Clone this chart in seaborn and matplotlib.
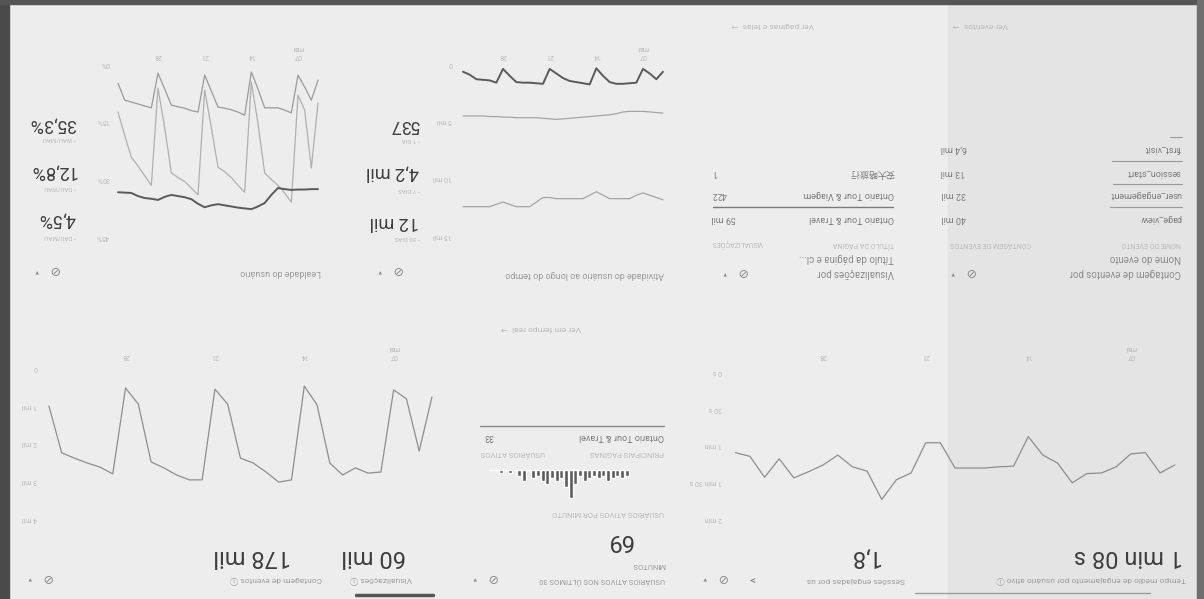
"""
GA4 engagement overview (pt-BR), reproduced as it appears in the screenshot:
rotated by 180 degrees, so every axis is inverted and all text is upside down.
"""
import matplotlib
matplotlib.use("Agg")
import matplotlib.pyplot as plt
from matplotlib.patches import Rectangle
import seaborn as sns

W, H = 1204, 599

# ---- data (chronological order, as on the upright dashboard) ----
day_ticks = [3, 10, 17, 24]
day_labels = ["07\nmai", "14", "21", "28"]

views_daily = [800, 2240, 850, 610, 2800, 2830, 2690, 2880, 2560, 1010, 510,
               3010, 3070, 2800, 2560, 2430, 990, 590, 3010, 3010, 2880, 2690,
               2530, 990, 560, 2850, 2670, 2560, 2430, 2290, 1040]
views_yticks = [0, 1000, 2000, 3000, 4000]
views_ylabels = ["0", "1 mil", "2 mil", "3 mil", "4 mil"]

engage_secs = [77, 83.5, 67, 68, 78.5, 83.5, 84, 91.5, 75.5, 69, 54, 78, 78.5,
               79.5, 79.5, 79.5, 59, 59, 83.5, 89, 105, 82, 78.5, 69, 77, 82.5,
               87.5, 72, 87, 70, 67]
engage_yticks = [0, 30, 60, 90, 120]
engage_ylabels = ["0 s", "30 s", "1 min", "1 min 30 s", "2 min"]

users_1d = [0.85, 1.5, 1.0, 0.6, 1.8, 1.85, 1.9, 1.9, 1.75, 1.2, 0.55, 1.95, 1.85,
            1.75, 1.65, 1.4, 1.0, 0.6, 1.9, 1.85, 1.8, 1.8, 1.75, 1.2, 0.6, 1.8,
            1.6, 1.55, 1.5, 1.1, 0.85]
users_7d = [4.45, 4.4, 4.35, 4.3, 4.3, 4.3, 4.35, 4.5, 4.6, 4.65, 4.7, 4.75, 4.8,
            4.85, 4.9, 4.95, 5.0, 4.95, 4.9, 4.85, 4.85, 4.85, 4.85, 4.8, 4.8,
            4.75, 4.75, 4.7, 4.7, 4.7, 4.7]
users_30d = [12.0, 11.8, 11.6, 11.4, 11.6, 11.9, 11.9, 11.9, 11.9, 11.6, 11.3,
             11.6, 11.9, 11.9, 11.9, 11.9, 11.9, 11.8, 11.8, 12.2, 12.6, 12.6,
             12.6, 12.4, 12.2, 12.4, 12.6, 12.6, 12.6, 12.6, 12.6]
users_yticks = [0, 5, 10, 15]
users_ylabels = ["0", "5 mil", "10 mil", "15 mil"]

dau_mau = [4.7, 9.9, 6.5, 3.4, 13.2, 12.5, 11.9, 11.9, 11.9, 7.0, 2.6, 13.8, 13.0,
           12.4, 12.0, 11.7, 7.5, 3.4, 13.0, 12.6, 12.0, 11.6, 11.2, 7.0, 2.9,
           11.9, 11.4, 10.9, 10.4, 9.9, 5.5]
dau_wau = [10.6, 27.5, 12.5, 8.6, 36.4, 34.0, 32.0, 30.5, 28.8, 16.0, 5.2, 33.8,
           32.0, 30.0, 28.5, 27.3, 17.0, 7.3, 34.5, 32.7, 31.0, 30.0, 28.8, 17.0,
           6.8, 32.0, 29.5, 27.0, 24.7, 19.0, 13.0]
wau_mau = [33.0, 33.0, 33.1, 33.1, 33.2, 33.0, 32.7, 34.5, 36.6, 37.5, 38.2, 38.0,
           37.8, 37.5, 37.2, 36.9, 37.2, 37.7, 36.8, 35.6, 35.1, 34.8, 34.5, 35.0,
           35.8, 35.5, 35.3, 34.8, 34.0, 33.9, 33.8]
loyal_yticks = [0, 15, 30, 45]
loyal_ylabels = ["0%", "15%", "30%", "45%"]

users_per_minute = [2, 3, 2, 3, 4, 2, 3, 2, 3, 4, 2, 5, 10, 6, 3, 4, 3, 5, 4, 2,
                    3, 0, 4, 2, 0, 1, 0, 1, 0, 0]

event_names = ["page_view", "user_engagement", "session_start", "first_visit"]
event_counts = ["40 mil", "32 mil", "13 mil", "6,4 mil"]
page_titles = ["Ontario Tour & Travel", "Ontario Tour & Viagem", "安大略旅行"]
page_views = ["59 mil", "422", "1"]

INK = "#3d3d3d"
SOFT = "#9a9a9a"
FAINT = "#b8b8b8"

sns.set_theme(style="white")
plt.rcParams["font.family"] = ["Roboto", "DejaVu Sans", "Noto Sans CJK SC"]

fig = plt.figure(figsize=(W / 100, H / 100), dpi=100, facecolor="#ededed")

# background layer in pixel coordinates of the screenshot
bg = fig.add_axes([0, 0, 1, 1])
bg.set_xlim(0, W)
bg.set_ylim(H, 0)
bg.axis("off")
bg.add_patch(Rectangle((948, 4), 249, H, color="#e4e4e4", zorder=0))
bg.add_patch(Rectangle((0, 0), 9, H, color="#4a4a4a", zorder=5))
bg.add_patch(Rectangle((0, 0), W, 4, color="#555555", zorder=5))
bg.add_patch(Rectangle((1197, 0), 7, H, color="#6e6e6e", zorder=5))


def utext(x, y, s, size=7, color=SOFT, ha="right", **kw):
    """Upside-down text; x is the image-space edge chosen by ha."""
    bg.text(x, y, s, rotation=180, fontsize=size, color=color, ha=ha,
            va="center", **kw)


def box(x0, y0, x1, y1):
    ax = fig.add_axes([x0 / W, 1 - y1 / H, (x1 - x0) / W, (y1 - y0) / H])
    ax.set_facecolor("none")
    return ax


def style_axes(ax, xlim, ylim, yticks, ylabels):
    ax.set_xlim(*xlim)
    ax.set_ylim(*ylim)
    ax.xaxis.tick_top()
    ax.set_xticks(day_ticks, day_labels)
    ax.set_yticks(yticks, ylabels)
    ax.tick_params(length=0, labelsize=5, labelcolor=FAINT, labelrotation=180, pad=2)
    ax.set_xlabel("")
    ax.set_ylabel("")
    for sp in ax.spines.values():
        sp.set_visible(False)


def icon(x, y):
    utext(x, y, "⊘", size=9, color="#8a8a8a", ha="center")
    utext(x - 17, y, "▾", size=5, color="#8a8a8a", ha="center")


# ---------------- lower half (first row of the dashboard) ----------------
utext(1183, 557, "1 min 08 s", size=17, color=INK)
utext(1186, 580, "Tempo médio de engajamento por usuário ativo ⓘ", size=6)
utext(880, 557, "1,8", size=17, color=INK)
utext(905, 580, "Sessões engajadas por us", size=6)
utext(752, 578, ">", size=8, color="#777777", ha="center")
icon(722, 577)
bg.plot([915, 1150], [593, 593], color="#9d9d9d", lw=1)

ax = box(725, 362, 1185, 525)
sns.lineplot(x=range(len(engage_secs)), y=engage_secs, ax=ax, color="#8e8e8e", linewidth=0.9)
style_axes(ax, (30.7, -0.7), (125.7, -6.5), engage_yticks, engage_ylabels)

# realtime card
utext(665, 580, "USUÁRIOS ATIVOS NOS ÚLTIMOS 30", size=5.5)
utext(665, 565, "MINUTOS", size=5.5)
utext(633, 541, "69", size=17, color=INK)
icon(492, 577)
utext(664, 513, "USUÁRIOS ATIVOS POR MINUTO", size=5.5, color=FAINT)
ax = box(488, 468, 630, 506)
sns.barplot(x=list(range(len(users_per_minute))), y=users_per_minute, ax=ax,
            color="#5c5c5c", width=0.88, saturation=1)
ax.set_xlim(29.7, -0.7)
ax.set_ylim(12.7, -0.7)
ax.axis("off")
utext(664, 453, "PRINCIPAIS PÁGINAS", size=5.5, color=FAINT)
utext(481, 453, "USUÁRIOS ATIVOS", size=5.5, color=FAINT, ha="left")
utext(664, 437, "Ontario Tour & Travel", size=6.5, color="#7a7a7a")
utext(484, 437, "33", size=6.5, color="#7a7a7a", ha="left")
bg.plot([480, 664], [426, 426], color="#8a8a8a", lw=1)
utext(581, 328, "Ver em tempo real  →", size=6, color=FAINT)

# views / events card
utext(406, 557, "60 mil", size=17, color=INK)
utext(412, 580, "Visualizações ⓘ", size=6)
utext(291, 557, "178 mil", size=17, color=INK)
utext(322, 580, "Contagem de eventos ⓘ", size=6)
icon(47, 577)
bg.plot([356, 433], [595, 595], color="#555555", lw=2.5)

ax = box(40, 362, 440, 525)
sns.lineplot(x=range(len(views_daily)), y=views_daily, ax=ax, color="#8e8e8e", linewidth=0.9)
style_axes(ax, (30.7, -0.63), (4213, -133), views_yticks, views_ylabels)

# ---------------- upper half (second row of the dashboard) ----------------
# user activity over time
utext(664, 275, "Atividade do usuário ao longo do tempo", size=6.5)
icon(397, 270)
for y_num, y_leg, num, leg in [(222, 238, "12 mil", "• 30 DIAS"),
                              (173, 189, "4,2 mil", "• 7 DIAS"),
                              (125, 139, "537", "• 1 DIA")]:
    utext(419, y_num, num, size=13, color=INK)
    utext(420, y_leg, leg, size=4.5, color=FAINT)

ax = box(455, 62, 668, 240)
sns.lineplot(x=range(len(users_30d)), y=users_30d, ax=ax, color="#a5a5a5", linewidth=0.9)
sns.lineplot(x=range(len(users_7d)), y=users_7d, ax=ax, color="#a5a5a5", linewidth=0.9)
sns.lineplot(x=range(len(users_1d)), y=users_1d, ax=ax, color="#5a5a5a", linewidth=1.4)
style_axes(ax, (31.2, -0.75), (15.5, 0), users_yticks, users_ylabels)

# user stickiness
utext(321, 272, "Lealdade do usuário", size=6.5)
icon(54, 270)
for y_num, y_leg, num, leg in [(220, 237, "4,5%", "• DAU/MAU"),
                              (172, 188, "12,8%", "• DAU/WAU"),
                              (125, 139, "35,3%", "• WAU/MAU")]:
    utext(76, y_num, num, size=13, color=INK)
    utext(76, y_leg, leg, size=4.5, color=FAINT)

ax = box(112, 62, 324, 240)
sns.lineplot(x=range(len(dau_wau)), y=dau_wau, ax=ax, color="#b0b0b0", linewidth=0.9)
sns.lineplot(x=range(len(dau_mau)), y=dau_mau, ax=ax, color="#9a9a9a", linewidth=0.9)
sns.lineplot(x=range(len(wau_mau)), y=wau_mau, ax=ax, color="#5a5a5a", linewidth=1.4)
style_axes(ax, (30.9, -0.9), (46.2, 0), loyal_yticks, loyal_ylabels)

# event count table
utext(1181, 273, "Contagem de eventos por", size=7, color="#8a8a8a")
utext(1181, 258, "Nome do evento", size=7, color="#8a8a8a")
icon(970, 272)
utext(1181, 243, "NOME DO EVENTO", size=5, color=FAINT)
utext(950, 243, "CONTAGEM DE EVENTOS", size=5, color=FAINT, ha="left")
for y, name, count in zip([218, 195, 173, 149], event_names, event_counts):
    utext(1181, y, name, size=6.5, color="#7a7a7a")
    utext(941, y, count, size=6.5, color="#7a7a7a", ha="left")
for y, x0 in [(207, 1110), (184, 1113), (161, 1112), (137, 1170)]:
    bg.plot([x0, 1182], [y, y], color="#9a9a9a", lw=0.8)
utext(1008, 25, "Ver eventos  →", size=6, color=FAINT)

# page views table
utext(894, 273, "Visualizações por", size=7, color="#8a8a8a")
utext(894, 258, "Título da página e cl...", size=7, color="#8a8a8a")
icon(742, 272)
utext(894, 243, "TÍTULO DA PÁGINA", size=5, color=FAINT)
utext(712, 243, "VISUALIZAÇÕES", size=5, color=FAINT, ha="left")
for y, title, count in zip([218, 195, 173], page_titles, page_views):
    utext(894, y, title, size=6.5, color="#7a7a7a")
    utext(712, y, count, size=6.5, color="#7a7a7a", ha="left")
bg.plot([713, 893], [207, 207], color="#7a7a7a", lw=1)
utext(814, 25, "Ver páginas e telas  →", size=6, color=FAINT)

fig.savefig("out.png", dpi=100, facecolor=fig.get_facecolor())
